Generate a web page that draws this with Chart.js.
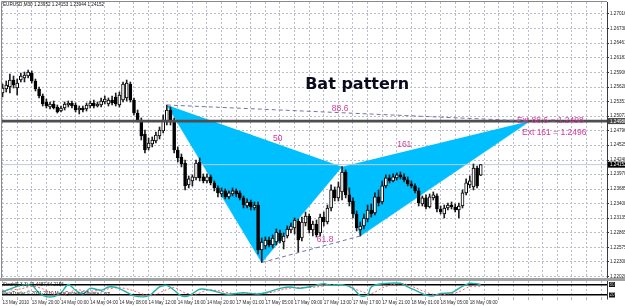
<!DOCTYPE html>
<html>
<head>
<meta charset="utf-8">
<title>EURUSD M30 Bat pattern</title>
<script src="https://cdn.jsdelivr.net/npm/chart.js@4.4.1/dist/chart.umd.min.js"></script>
<style>
html,body{margin:0;padding:0;background:#ffffff;}
#wrap{position:relative;width:625px;height:306px;overflow:hidden;background:#ffffff;}
#main{position:absolute;left:0;top:0;width:625px;height:278px;}
#sep{position:absolute;left:0;top:278px;width:625px;height:3px;background:#a2a2a2;}
#osc{position:absolute;left:0;top:281px;width:625px;height:25px;}
</style>
</head>
<body>
<div id="wrap">
<canvas id="main" width="625" height="278"></canvas>
<div id="sep"></div>
<canvas id="osc" width="625" height="25"></canvas>
</div>
<script>
// ---------------- data ----------------
const symbolHeader = 'EURUSD,M30 1.23952 1.24153 1.23944 1.24152';

const opens = [
1.25514,1.25590,1.25628,1.25761,1.25609,1.25761,1.25799,1.25837,1.25894,1.25742,
1.25590,1.25457,1.25343,1.25248,1.25305,1.25248,1.25172,1.25229,1.25286,1.25324,
1.25286,1.25191,1.25229,1.25210,1.25267,1.25324,1.25267,1.25286,1.25343,1.25305,
1.25381,1.25438,1.25286,1.25381,1.25419,1.25685,1.25381,1.25134,1.25001,1.24735,
1.24469,1.24545,1.24602,1.24697,1.24792,1.24963,1.25191,1.24963,1.24431,1.24298,
1.24184,1.23766,1.23842,1.23899,1.24203,1.23918,1.23842,1.23918,1.23804,1.23709,
1.23595,1.23652,1.23538,1.23595,1.23652,1.23614,1.23519,1.23366,1.23442,1.23328,
1.23385,1.22530,1.22606,1.22720,1.22625,1.22682,1.22853,1.22682,1.22796,1.22910,
1.22948,1.23081,1.22758,1.23043,1.23176,1.22910,1.23024,1.22853,1.23157,1.23062,
1.23328,1.23671,1.23519,1.23633,1.24013,1.23576,1.23461,1.23214,1.22910,1.22986,
1.23119,1.23290,1.23233,1.23538,1.23442,1.23747,1.23899,1.23842,1.23899,1.23956,
1.23918,1.23861,1.23785,1.23747,1.23652,1.23404,1.23519,1.23347,1.23519,1.23557,
1.23309,1.23214,1.23328,1.23385,1.23347,1.23290,1.23366,1.23614,1.23766,1.23728,
1.24089,1.23952];

const highs = [
1.25685,1.25742,1.25875,1.25837,1.25780,1.25894,1.25913,1.25951,1.25932,1.25780,
1.25628,1.25495,1.25400,1.25343,1.25362,1.25286,1.25267,1.25343,1.25362,1.25362,
1.25324,1.25267,1.25267,1.25324,1.25362,1.25381,1.25343,1.25419,1.25457,1.25419,
1.25457,1.25514,1.25533,1.25723,1.25761,1.25723,1.25419,1.25191,1.25039,1.24811,
1.24659,1.24678,1.24773,1.24868,1.25096,1.25286,1.25248,1.25039,1.24488,1.24355,
1.24241,1.23937,1.23956,1.24241,1.24279,1.23975,1.23975,1.23956,1.23842,1.23747,
1.23709,1.23690,1.23652,1.23709,1.23690,1.23652,1.23557,1.23500,1.23480,1.23442,
1.23442,1.22758,1.22777,1.22777,1.22815,1.22929,1.22910,1.22853,1.22986,1.23043,
1.23138,1.23119,1.23157,1.23252,1.23214,1.23081,1.23100,1.23214,1.23252,1.23385,
1.23766,1.23728,1.23823,1.24113,1.24051,1.23709,1.23519,1.23271,1.23062,1.23214,
1.23385,1.23404,1.23614,1.23671,1.23842,1.23956,1.23956,1.23975,1.23994,1.24013,
1.23975,1.23918,1.23842,1.23785,1.23709,1.23557,1.23576,1.23595,1.23633,1.23595,
1.23366,1.23385,1.23423,1.23442,1.23404,1.23423,1.23671,1.23880,1.23937,1.24165,
1.24127,1.24153];

const lows = [
1.25438,1.25533,1.25514,1.25609,1.25476,1.25723,1.25723,1.25799,1.25704,1.25552,
1.25419,1.25267,1.25229,1.25210,1.25210,1.25134,1.25153,1.25191,1.25248,1.25229,
1.25153,1.25115,1.25153,1.25172,1.25229,1.25229,1.25248,1.25248,1.25305,1.25267,
1.25286,1.25267,1.25248,1.25343,1.25362,1.25343,1.25096,1.24963,1.24621,1.24374,
1.24431,1.24488,1.24564,1.24640,1.24754,1.24906,1.24906,1.24374,1.24203,1.24108,
1.23671,1.23709,1.23747,1.23861,1.23842,1.23804,1.23804,1.23766,1.23652,1.23538,
1.23538,1.23500,1.23500,1.23557,1.23538,1.23480,1.23328,1.23328,1.23290,1.23290,
1.22454,1.22292,1.22549,1.22587,1.22568,1.22625,1.22663,1.22549,1.22758,1.22853,
1.22834,1.22492,1.22701,1.22986,1.22853,1.22796,1.22777,1.22796,1.22986,1.23024,
1.23271,1.23461,1.23461,1.23480,1.23519,1.23366,1.23138,1.22891,1.22796,1.22929,
1.23062,1.23157,1.23195,1.23366,1.23404,1.23709,1.23804,1.23823,1.23861,1.23880,
1.23823,1.23747,1.23709,1.23614,1.23366,1.23366,1.23309,1.23328,1.23480,1.23252,
1.23214,1.23138,1.23290,1.23309,1.23252,1.23138,1.23328,1.23576,1.23709,1.23671,
1.23709,1.23944];

const closes = [
1.25609,1.25666,1.25761,1.25666,1.25704,1.25837,1.25856,1.25913,1.25742,1.25590,
1.25457,1.25305,1.25267,1.25305,1.25229,1.25153,1.25229,1.25305,1.25324,1.25267,
1.25191,1.25229,1.25191,1.25286,1.25324,1.25267,1.25305,1.25362,1.25400,1.25381,
1.25324,1.25305,1.25476,1.25685,1.25704,1.25381,1.25134,1.25001,1.24697,1.24431,
1.24564,1.24621,1.24716,1.24811,1.25001,1.25191,1.24963,1.24431,1.24279,1.24165,
1.23747,1.23880,1.23918,1.24184,1.23899,1.23842,1.23918,1.23804,1.23709,1.23614,
1.23652,1.23538,1.23614,1.23652,1.23595,1.23519,1.23385,1.23442,1.23347,1.23385,
1.22530,1.22682,1.22720,1.22625,1.22758,1.22872,1.22701,1.22796,1.22929,1.22986,
1.23100,1.22720,1.23062,1.23176,1.22910,1.23024,1.22815,1.23157,1.23062,1.23328,
1.23671,1.23519,1.23728,1.24013,1.23576,1.23442,1.23214,1.22948,1.22986,1.23138,
1.23290,1.23214,1.23538,1.23423,1.23747,1.23899,1.23842,1.23918,1.23956,1.23918,
1.23861,1.23785,1.23747,1.23652,1.23423,1.23519,1.23347,1.23538,1.23576,1.23309,
1.23252,1.23328,1.23385,1.23347,1.23290,1.23366,1.23614,1.23804,1.23842,1.24089,
1.23747,1.24152];

// time axis: one vertical grid line every 4 bars, a label every 8 bars
const gridBars = [0,4,8,12,16,20,24,28,32,36,40,44,48,52,56,60,64,68,72,76,80,84,
  88,92,96,100,104,108,112,116,120,124,128,132,136,140,144,148,152,156,160,164];
const xTickLabels = ['13 May 2010','13 May 20:00','14 May 00:00','14 May 04:00','14 May 08:00',
  '14 May 12:00','14 May 16:00','14 May 20:00','17 May 01:00','17 May 05:00','17 May 09:00',
  '17 May 13:00','17 May 17:00','17 May 21:00','18 May 01:00','18 May 05:00','18 May 09:00'];

// price axis
const yTickValues = [1.27016,1.26738,1.26461,1.26183,1.25906,1.25628,1.25351,1.25073,1.24796,
  1.24525,1.24240,1.23970,1.23685,1.23408,1.23135,1.22865,1.22575,1.22308,1.22020];
const yTickLabels = ['1.27016','1.26738','1.26461','1.26183','1.25906','1.25628','1.25351','1.25073','1.24796',
  '1.24525','1.24240','1.23970','1.23685','1.23408','1.23135','1.22865','1.22575','1.22308','1.22020'];

// Bat pattern points X, A, B, C, D (bar index, price)
const patternBars   = [45, 71, 93, 98, 144.5];
const patternPrices = [1.25286, 1.22292, 1.24113, 1.22796, 1.24980];
const targetLevel = 1.24980;
const bidPrice = 1.24152;

// text objects (bar index, price of baseline)
const noteTexts  = ['88.6', '50', '161', '61.8', 'Ext 88.6 = 1.2498', 'Ext 161 = 1.2496'];
const noteBars   = [90.2, 74.1, 108.1, 86.1, 140.9, 142.3];
const notePrices = [1.25181, 1.24592, 1.24478, 1.22672, 1.24938, 1.24719];
const titleText = 'Bat pattern';
const titleBar = 82.9;
const titlePrice = 1.25584;

// Stochastic (5,3,3)
const stochMainBars = [0,5,8,10,12,14,16,18,20,22,24,27,29,31,33,36,40,43,45,47,49,51,54,57,60,62,66,70,73,76,
  79,81,84,88,90,93,96,98,100,101,104,109,111,114,116,118,120,123,125,127,128,130,131];
const stochMain = [38,75,75,31,11,11,31,80,47,26,58,47,66,64,47,15,15,66,75,47,15,15,53,47,31,24,33,26,38,58,
  66,58,66,84,75,79,58,15,20,66,84,87,66,38,20,15,29,33,58,79,87,84,80];
const stochSignalBars = [0,5,8,11,14,17,20,23,26,29,32,35,38,41,44,47,50,53,56,59,62,65,68,71,74,77,80,83,86,89,
  92,95,98,101,104,107,110,113,116,119,122,125,128,131];
const stochSignal = [45,55,70,55,25,18,50,42,45,55,62,50,28,16,42,62,32,25,48,45,32,27,30,30,36,52,62,62,66,76,
  78,70,42,28,60,80,84,62,36,20,26,38,68,70];
const stochLevels = [80, 20];
const stochLevelLabels = ['80', '20'];
const stochCaption = 'Stoch(5,3,3) 49.4487 64.2156';
const copyrightText = 'MetaTrader \u00A9 2001-2010 MetaQuotes Software Corp.';

// axis ranges
const X_MIN = -0.16, X_MAX = 165.59;
const Y_MIN = 1.21997, Y_MAX = 1.27244;

// ---------------- styles ----------------
const GRID = '#b8bccb';
const PINK = '#d8379c';
const SKY = '#00bfff';
const TINY = {family: '"Liberation Sans", Arial, sans-serif', size: 4.6};

const bars = opens.map((o, i) => i);
const pt = (b, p) => ({x: b, y: p});

const triXAB = [0, 1, 2].map(k => pt(patternBars[k], patternPrices[k]));
const triBCD = [2, 3, 4].map(k => pt(patternBars[k], patternPrices[k]));
const lineXD = [0, 4].map(k => pt(patternBars[k], patternPrices[k]));
const lineAC = [1, 3].map(k => pt(patternBars[k], patternPrices[k]));

const mainPlugin = {
  id: 'mainDecor',
  afterDatasetsDraw(chart) {
    const {ctx, scales: {x, y}} = chart;
    ctx.save();
    ctx.textBaseline = 'alphabetic';
    ctx.textAlign = 'left';
    ctx.fillStyle = PINK;
    ctx.font = '8.5px "Liberation Sans", Arial, sans-serif';
    noteTexts.forEach((t, i) => {
      ctx.fillText(t, x.getPixelForValue(noteBars[i]), y.getPixelForValue(notePrices[i]));
    });
    ctx.fillStyle = '#0b0b1e';
    ctx.font = 'bold 16px "DejaVu Sans", sans-serif';
    ctx.fillText(titleText, x.getPixelForValue(titleBar), y.getPixelForValue(titlePrice));
    ctx.restore();
  },
  afterDraw(chart) {
    const {ctx, chartArea: a, scales: {y}} = chart;
    ctx.save();
    // frame (left / top)
    ctx.strokeStyle = '#8a8a8a';
    ctx.lineWidth = 1;
    ctx.beginPath();
    ctx.moveTo(1.5, 278); ctx.lineTo(1.5, 1.5); ctx.lineTo(a.right, 1.5);
    ctx.stroke();
    // header
    ctx.fillStyle = '#111';
    ctx.font = '4.6px "Liberation Sans", Arial, sans-serif';
    ctx.textBaseline = 'middle';
    ctx.textAlign = 'left';
    ctx.fillText(symbolHeader, 3, 4.8);
    // price boxes on the axis
    const boxes = [[targetLevel, '#454545', targetLevel.toFixed(5)], [bidPrice, '#000000', bidPrice.toFixed(5)]];
    boxes.forEach(([v, c, t]) => {
      const py = y.getPixelForValue(v);
      ctx.fillStyle = c;
      ctx.fillRect(a.right + 1, py - 3, 625 - a.right, 6);
      ctx.fillStyle = '#ffffff';
      ctx.fillText(t, a.right + 3, py + 0.3);
    });
    ctx.restore();
  }
};

new Chart(document.getElementById('main'), {
  type: 'bar',
  data: {
    datasets: [
      {type: 'line', data: triXAB, fill: 'shape', backgroundColor: SKY, borderColor: SKY,
       borderWidth: 0.6, pointRadius: 0, tension: 0, order: 20},
      {type: 'line', data: triBCD, fill: 'shape', backgroundColor: SKY, borderColor: SKY,
       borderWidth: 0.6, pointRadius: 0, tension: 0, order: 20},
      {type: 'line', data: [pt(X_MIN, bidPrice), pt(X_MAX, bidPrice)], borderColor: '#c3c9dc',
       borderWidth: 1, pointRadius: 0, fill: false, order: 15},
      {type: 'bar', data: bars.map(i => ({x: i, y: [lows[i], highs[i]]})), backgroundColor: '#1e1e1e',
       borderWidth: 0, barThickness: 1, grouped: false, order: 10},
      {type: 'bar', data: bars.map(i => ({x: i, y: [opens[i], closes[i]]})),
       backgroundColor: bars.map(i => closes[i] >= opens[i] ? '#ffffff' : '#000000'),
       borderColor: '#000000', borderWidth: 1, borderSkipped: false, barThickness: 3,
       grouped: false, order: 9},
      {type: 'line', data: [pt(X_MIN, targetLevel), pt(X_MAX, targetLevel)], borderColor: '#4e4e4e',
       borderWidth: 2.6, pointRadius: 0, fill: false, order: 5},
      {type: 'line', data: lineXD, borderColor: '#7373a6', borderWidth: 1, borderDash: [4, 3],
       pointRadius: 0, fill: false, order: 4},
      {type: 'line', data: lineAC, borderColor: '#7373a6', borderWidth: 1, borderDash: [4, 3],
       pointRadius: 0, fill: false, order: 4}
    ]
  },
  options: {
    responsive: false, animation: false, devicePixelRatio: 1, events: [],
    layout: {padding: {left: 2, top: 2, right: 0, bottom: 0}},
    plugins: {legend: {display: false}, tooltip: {enabled: false}},
    scales: {
      x: {
        type: 'linear', min: X_MIN, max: X_MAX, offset: false,
        afterBuildTicks: s => { s.ticks = gridBars.map(v => ({value: v})); },
        ticks: {display: false},
        grid: {color: GRID, lineWidth: 1, drawTicks: false, offset: false},
        border: {display: false, dash: [2, 2]},
        afterFit: s => { s.height = 0; s.paddingLeft = 0; s.paddingRight = 0; }
      },
      y: {
        type: 'linear', position: 'right', min: Y_MIN, max: Y_MAX,
        afterBuildTicks: s => { s.ticks = yTickValues.map(v => ({value: v})); },
        ticks: {callback: (v, i) => yTickLabels[i], font: TINY, color: '#222', padding: 1, autoSkip: false},
        grid: {color: GRID, lineWidth: 1, tickColor: '#333', tickLength: 2, tickBorderDash: [], tickWidth: 1},
        border: {display: true, color: '#3a3a3a', width: 1, dash: [2, 2]},
        afterFit: s => { s.width = 18; s.paddingTop = 0; s.paddingBottom = 0; }
      }
    }
  },
  plugins: [mainPlugin]
});

const oscPlugin = {
  id: 'oscDecor',
  afterDraw(chart) {
    const {ctx, chartArea: a, scales: {y}} = chart;
    ctx.save();
    ctx.fillStyle = '#1a1a1a';
    ctx.font = '4.6px "Liberation Sans", Arial, sans-serif';
    ctx.textBaseline = 'middle';
    ctx.textAlign = 'left';
    ctx.fillText(stochCaption, 3, 3.3);
    ctx.fillText(copyrightText, 2, 12.5);
    stochLevels.forEach((v, i) => {
      const py = y.getPixelForValue(v);
      ctx.fillStyle = '#111';
      ctx.fillRect(a.right + 2, py - 2.5, 6, 5);
      ctx.fillStyle = '#bbb';
      ctx.fillText(stochLevelLabels[i], a.right + 2.5, py + 0.2);
    });
    ctx.restore();
  }
};

new Chart(document.getElementById('osc'), {
  type: 'line',
  data: {
    datasets: [
      {data: stochSignalBars.map((b, i) => pt(b, stochSignal[i])), borderColor: '#ff5c5c', borderWidth: 1,
       borderDash: [2, 2], pointRadius: 0, tension: 0.3, fill: false, order: 2},
      {data: stochMainBars.map((b, i) => pt(b, stochMain[i])), borderColor: '#20b2aa', borderWidth: 1.4,
       pointRadius: 0, tension: 0.3, fill: false, order: 1}
    ]
  },
  options: {
    responsive: false, animation: false, devicePixelRatio: 1, events: [],
    layout: {padding: {left: 2, top: 0, right: 0, bottom: 0}},
    plugins: {legend: {display: false}, tooltip: {enabled: false}},
    scales: {
      x: {
        type: 'linear', min: X_MIN, max: X_MAX, offset: false,
        afterBuildTicks: s => { s.ticks = gridBars.map(v => ({value: v})); },
        ticks: {
          callback: v => (v % 8 === 0 && xTickLabels[v / 8]) ? xTickLabels[v / 8] : '',
          font: TINY, color: '#2a2a2a', padding: 0, align: 'start', autoSkip: false,
          maxRotation: 0, minRotation: 0
        },
        grid: {color: GRID, lineWidth: 1, tickLength: 1, tickColor: '#555', tickBorderDash: []},
        border: {display: false, dash: [2, 2]},
        afterFit: s => { s.height = 7.5; s.paddingLeft = 0; s.paddingRight = 0; }
      },
      y: {
        type: 'linear', position: 'right', min: 0, max: 100,
        afterBuildTicks: s => { s.ticks = stochLevels.map(v => ({value: v})); },
        ticks: {display: false},
        grid: {color: '#000000', lineWidth: 1.5, drawTicks: false},
        border: {display: true, color: '#3a3a3a', width: 1, dash: []},
        afterFit: s => { s.width = 18; s.paddingTop = 0; s.paddingBottom = 0; }
      }
    }
  },
  plugins: [oscPlugin]
});
</script>
</body>
</html>
